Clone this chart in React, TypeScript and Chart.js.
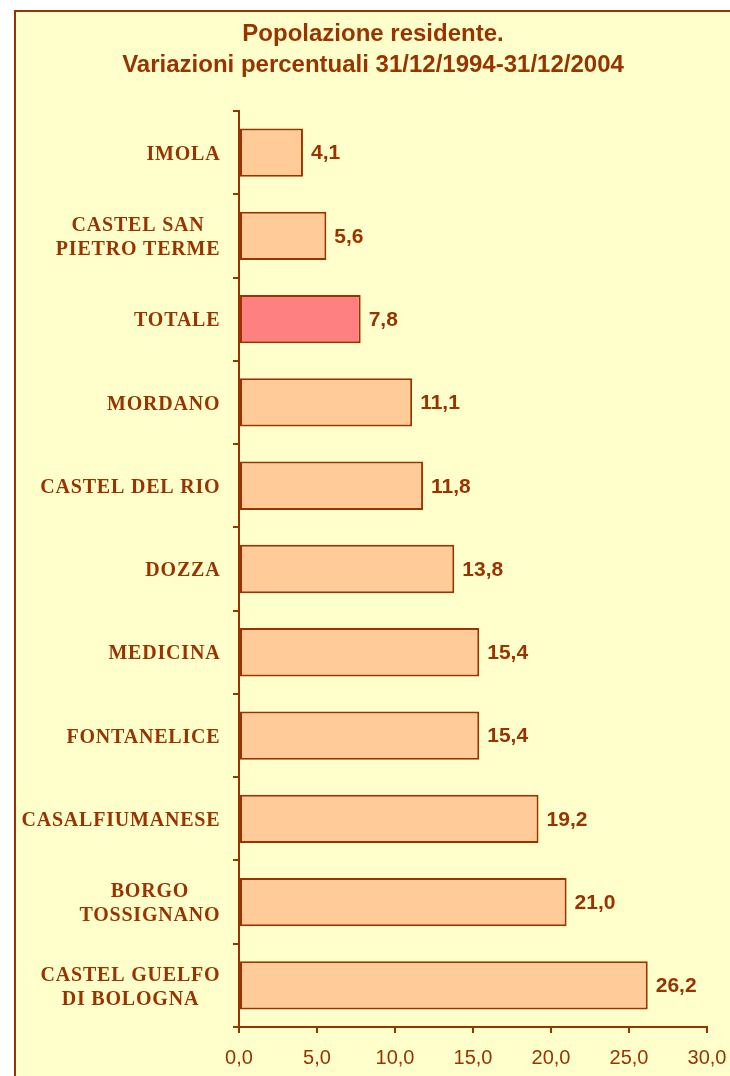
import React, { useEffect, useRef } from "react";
import { Chart, registerables } from "chart.js";

Chart.register(...registerables);

const titleLines = ["Popolazione residente.", "Variazioni percentuali 31/12/1994-31/12/2004"];
const categories: string[][] = [
  ["IMOLA"],
  ["CASTEL SAN", "PIETRO TERME"],
  ["TOTALE"],
  ["MORDANO"],
  ["CASTEL DEL RIO"],
  ["DOZZA"],
  ["MEDICINA"],
  ["FONTANELICE"],
  ["CASALFIUMANESE"],
  ["BORGO", "TOSSIGNANO"],
  ["CASTEL GUELFO", "DI BOLOGNA"],
];
const values = [4.1, 5.6, 7.8, 11.1, 11.8, 13.8, 15.4, 15.4, 19.2, 21.0, 26.2];
const highlightCategory = "TOTALE";
const xMin = 0;
const xMax = 30;
const xStep = 5;

const INK = "#993300";
const BAR_FILL = "#FFCC99";
const HIGHLIGHT_FILL = "#FF8080";
const BG = "#FFFFCC";

const fmt = (v: number) => v.toFixed(1).replace(".", ",");

const labelsPlugin = {
  id: "customLabels",
  afterDraw(chart: any) {
    const ctx = chart.ctx as CanvasRenderingContext2D;
    const yScale = chart.scales.y;
    ctx.save();
    ctx.fillStyle = INK;
    // title
    ctx.font = "bold 24px 'Liberation Sans', Arial, sans-serif";
    ctx.textAlign = "center";
    ctx.textBaseline = "middle";
    titleLines.forEach((t, i) => {
      ctx.fillText(t, 373, 34 + i * 31.5);
    });
    // category labels
    ctx.font = "bold 20px 'Liberation Serif', 'DejaVu Serif', serif";
    (ctx as any).letterSpacing = "0.8px";
    const rightEdge = 220;
    const lineGap = 24;
    categories.forEach((lines, i) => {
      const yc = yScale.getPixelForValue(i);
      const widths = lines.map((l) => ctx.measureText(l).width);
      const maxW = Math.max(...widths);
      const cx = rightEdge - maxW / 2;
      lines.forEach((l, j) => {
        const y = yc + (j - (lines.length - 1) / 2) * lineGap;
        ctx.fillText(l, cx + 0.4, y + 2);
      });
    });
    (ctx as any).letterSpacing = "0px";
    // value labels
    ctx.font = "bold 21px 'Liberation Sans', Arial, sans-serif";
    ctx.textAlign = "left";
    const meta = chart.getDatasetMeta(0);
    meta.data.forEach((bar: any, i: number) => {
      ctx.fillText(fmt(values[i]), bar.x + 8, bar.y + 1);
    });
    ctx.restore();
  },
};

export default function App() {
  const ref = useRef<HTMLCanvasElement | null>(null);
  useEffect(() => {
    document.body.style.margin = "0";
    if (!ref.current) return;
    const chart = new Chart(ref.current, {
      type: "bar",
      data: {
        labels: categories.map((c) => c.join(" ")),
        datasets: [
          {
            data: values,
            backgroundColor: categories.map((c) =>
              c.join(" ") === highlightCategory ? HIGHLIGHT_FILL : BAR_FILL
            ),
            borderColor: INK,
            borderWidth: 2,
            borderSkipped: false,
            categoryPercentage: 1,
            barPercentage: 0.58,
          },
        ],
      },
      options: {
        indexAxis: "y",
        animation: false,
        responsive: false,
        maintainAspectRatio: false,
        layout: { padding: { top: 111, left: 0, right: 23, bottom: 0 } },
        plugins: {
          legend: { display: false },
          tooltip: { enabled: false },
          title: { display: false },
        },
        scales: {
          x: {
            type: "linear",
            min: xMin,
            max: xMax,
            ticks: {
              stepSize: xStep,
              color: INK,
              font: { family: "'Liberation Sans', Arial, sans-serif", size: 20 },
              padding: 13,
              callback: (v: any) => fmt(Number(v)),
            },
            grid: {
              drawOnChartArea: false,
              drawTicks: true,
              tickLength: 6,
              color: INK,
              lineWidth: 2,
            },
            border: { display: true, color: INK, width: 2 },
            afterFit: (s: any) => {
              s.height = 49;
              s.paddingRight = 0;
              s.paddingLeft = 0;
            },
          },
          y: {
            type: "category",
            offset: true,
            ticks: { display: false },
            grid: {
              offset: true,
              drawOnChartArea: false,
              drawTicks: true,
              tickLength: 6,
              color: INK,
              lineWidth: 2,
            },
            border: { display: true, color: INK, width: 2 },
            afterFit: (s: any) => {
              s.width = 239;
              s.paddingTop = 0;
              s.paddingBottom = 0;
            },
          },
        },
      },
      plugins: [labelsPlugin],
    });
    return () => chart.destroy();
  }, []);

  return (
    <div style={{ position: "absolute", left: 0, top: 0, width: 730, height: 1076, overflow: "hidden", background: "#FFFFFF" }}>
      <div
        style={{
          position: "absolute",
          left: 14,
          top: 10,
          width: 740,
          height: 1100,
          background: BG,
          borderLeft: `2px solid ${INK}`,
          borderTop: `2px solid ${INK}`,
        }}
      />
      <canvas ref={ref} width={730} height={1076} style={{ position: "absolute", left: 0, top: 0, width: 730, height: 1076 }} />
    </div>
  );
}
